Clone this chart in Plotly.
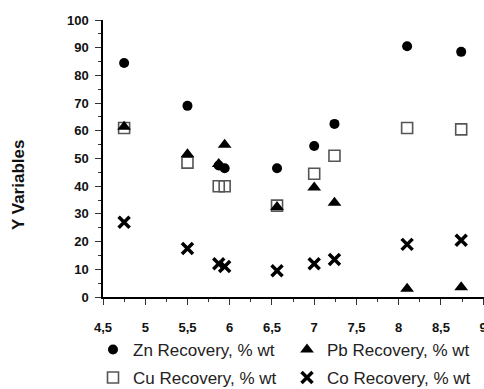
import plotly.graph_objects as go

# Data
x_vals = [4.75, 5.5, 5.87, 5.94, 6.56, 7.0, 7.24, 8.1, 8.74]
zn_recovery = [84.5, 69, 47.5, 46.5, 46.5, 54.5, 62.5, 90.5, 88.5]
pb_recovery = [61.5, 51.5, 48.0, 55.0, 32.5, 39.5, 34.0, 3.0, 3.5]
cu_recovery = [61.0, 48.5, 40.0, 40.0, 33.0, 44.5, 51.0, 61.0, 60.5]
co_recovery = [27.0, 17.5, 12.0, 11.0, 9.5, 12.0, 13.5, 19.0, 20.5]

names = ["Zn Recovery, % wt", "Pb Recovery, % wt", "Cu Recovery, % wt", "Co Recovery, % wt"]
x_tickvals = [4.5, 5, 5.5, 6, 6.5, 7, 7.5, 8, 8.5, 9]
y_tickvals = [0, 10, 20, 30, 40, 50, 60, 70, 80, 90, 100]

FONT = "Liberation Sans, Arial, sans-serif"

fig = go.Figure()
fig.add_trace(go.Scatter(x=x_vals, y=cu_recovery, mode="markers", name=names[2],
                         marker=dict(symbol="square-open", size=11, color="#555555",
                                     line=dict(width=1.6, color="#555555")), legend="legend3"))
fig.add_trace(go.Scatter(x=x_vals, y=zn_recovery, mode="markers", name=names[0],
                         marker=dict(symbol="circle", size=10, color="black"), legend="legend"))
fig.add_trace(go.Scatter(x=x_vals, y=pb_recovery, mode="markers", name=names[1],
                         marker=dict(symbol="triangle-up", size=12, color="black"), legend="legend2"))
fig.add_trace(go.Scatter(x=x_vals, y=co_recovery, mode="markers", name=names[3],
                         marker=dict(symbol="x-thin", size=11, color="black",
                                     line=dict(width=3.5, color="black")), legend="legend4"))

H = 389
plot_top, plot_bot = 20, 297
ph = plot_bot - plot_top
def py2paper(py):
    return (plot_bot - py) / ph

pw = 484 - 103
def px2paper(px):
    return (px - 103) / pw

leg_font = dict(family=FONT, size=17, color="#222222")
def leg(px, py):
    return dict(x=px2paper(px), y=py2paper(py), xanchor="left", yanchor="middle",
                orientation="h", font=leg_font, bgcolor="rgba(0,0,0,0)",
                borderwidth=0, itemwidth=30)

tickfont = dict(family=FONT, size=13, color="#111111", weight="bold")
x_range = [4.5, 9.01]

fig.update_layout(
    width=484, height=H,
    margin=dict(l=103, r=0, t=plot_top, b=H - plot_bot, pad=0, autoexpand=False),
    paper_bgcolor="white", plot_bgcolor="white",
    separators=",.",
    font=dict(family=FONT),
    showlegend=True,
    legend=leg(93, 350),
    legend2=leg(287, 350),
    legend3=leg(93, 378),
    legend4=leg(287, 378),
    xaxis=dict(range=x_range, tickvals=x_tickvals, showgrid=False, zeroline=False,
               showline=True, linecolor="black", linewidth=1.5, automargin=False,
               ticks="outside", ticklen=6, tickwidth=1, tickcolor="#333333",
               minor=dict(dtick=0.25, ticks="outside", ticklen=3, tickcolor="#333333", showgrid=False),
               tickfont=tickfont, ticklabelstandoff=12, ticklabeloverflow="allow"),
    xaxis2=dict(range=x_range, overlaying="x", side="top", tickvals=x_tickvals,
                showticklabels=False, showgrid=False, zeroline=False, automargin=False,
                showline=True, linecolor="#888888", linewidth=2.5,
                ticks="outside", ticklen=5, tickwidth=1, tickcolor="#555555",
                minor=dict(dtick=0.25, ticks="outside", ticklen=3, tickcolor="#555555", showgrid=False)),
    yaxis=dict(range=[0, 100], tickvals=y_tickvals, showgrid=False, zeroline=False,
               showline=True, linecolor="black", linewidth=1.5, automargin=False,
               ticks="outside", ticklen=6, tickwidth=1, tickcolor="#333333",
               minor=dict(dtick=5, ticks="outside", ticklen=3, tickcolor="#333333", showgrid=False),
               tickfont=tickfont, ticklabelstandoff=4),
    annotations=[dict(text="<b>Y Variables</b>", textangle=-90, xref="paper", yref="paper",
                      x=px2paper(18), y=py2paper(185), showarrow=False,
                      xanchor="center", yanchor="middle",
                      font=dict(family=FONT, size=17, color="#111111"))],
)

fig.write_html("out.html")
